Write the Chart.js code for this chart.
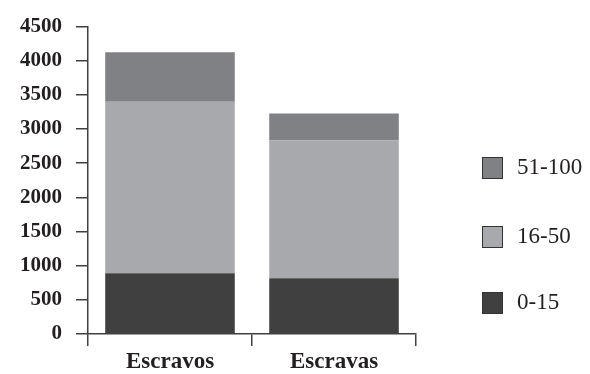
<!DOCTYPE html>
<html>
<head>
<meta charset="utf-8">
<script src="https://cdn.jsdelivr.net/npm/chart.js@4.4.1/dist/chart.umd.min.js"></script>
<style>
  html, body { margin: 0; padding: 0; background: #fff; }
  #wrap { position: relative; width: 590px; height: 374px; }
  #legend { position: absolute; left: 482px; top: 157px; font-family: "Liberation Serif", serif; font-size: 23px; color: #231f20; }
  .item { position: absolute; left: 0; white-space: nowrap; height: 22px; }
  .box { position: absolute; left: 0; top: 0; width: 19px; height: 20px; border: 1px solid #333; }
  .txt { position: absolute; left: 35px; top: -3px; line-height: 26px; }
</style>
</head>
<body>
<div id="wrap">
  <canvas id="myChart" width="590" height="374"></canvas>
  <div id="legend"></div>
</div>
<script>
var categories = ["Escravos", "Escravas"];
var ages = ["0-15", "16-50", "51-100"];
var young = [890, 817];
var adults = [2510, 2018];
var old = [725, 392];
var colors = ["#404040", "#a8a9ac", "#808184"];
var yTicks = [0, 500, 1000, 1500, 2000, 2500, 3000, 3500, 4000, 4500];

document.addEventListener("DOMContentLoaded", function () {
  var ctx = document.getElementById("myChart").getContext("2d");
  var axisColor = "#404040";

  var data = {
    labels: categories,
    datasets: [
      { label: ages[0], data: young, backgroundColor: colors[0] },
      { label: ages[1], data: adults, backgroundColor: colors[1] },
      { label: ages[2], data: old, backgroundColor: colors[2] },
    ],
  };

  var options = {
    responsive: false,
    animation: false,
    layout: { padding: { top: 24, right: 174, bottom: 0, left: 0 } },
    plugins: { legend: { display: false }, tooltip: { enabled: false } },
    datasets: { bar: { barPercentage: 0.79, categoryPercentage: 1 } },
    scales: {
      x: {
        stacked: true,
        border: { color: axisColor, width: 1.5 },
        grid: { offset: true, drawOnChartArea: false, color: axisColor, lineWidth: 1.5, tickLength: 12 },
        ticks: { color: "#231f20", padding: 2, font: { family: "Liberation Serif", size: 23, weight: "bold" } },
        afterFit: function (scale) { scale.height = 40; },
      },
      y: {
        stacked: true,
        min: 0,
        max: 4500,
        afterBuildTicks: function (scale) {
          scale.ticks = yTicks.map(function (v) { return { value: v }; });
        },
        border: { color: axisColor, width: 1.5 },
        grid: { drawOnChartArea: false, color: axisColor, lineWidth: 1.5, tickLength: 12 },
        ticks: {
          color: "#231f20",
          padding: 14,
          font: { family: "Liberation Serif", size: 21, weight: "bold" },
          callback: function (value) { return String(value); },
        },
        afterFit: function (scale) { scale.width = 88; },
      },
    },
  };

  var myChart = new Chart(ctx, { type: "bar", data: data, options: options });

  // legend listed top-down from the oldest group
  var legend = document.getElementById("legend");
  var tops = [135, 69, 0];
  data.datasets.forEach(function (ds, i) {
    var item = document.createElement("div");
    item.className = "item";
    item.style.top = tops[i] + "px";
    item.innerHTML = '<span class="box" style="background:' + ds.backgroundColor + '"></span><span class="txt">' + ds.label + "</span>";
    legend.appendChild(item);
  });
});
</script>
</body>
</html>
